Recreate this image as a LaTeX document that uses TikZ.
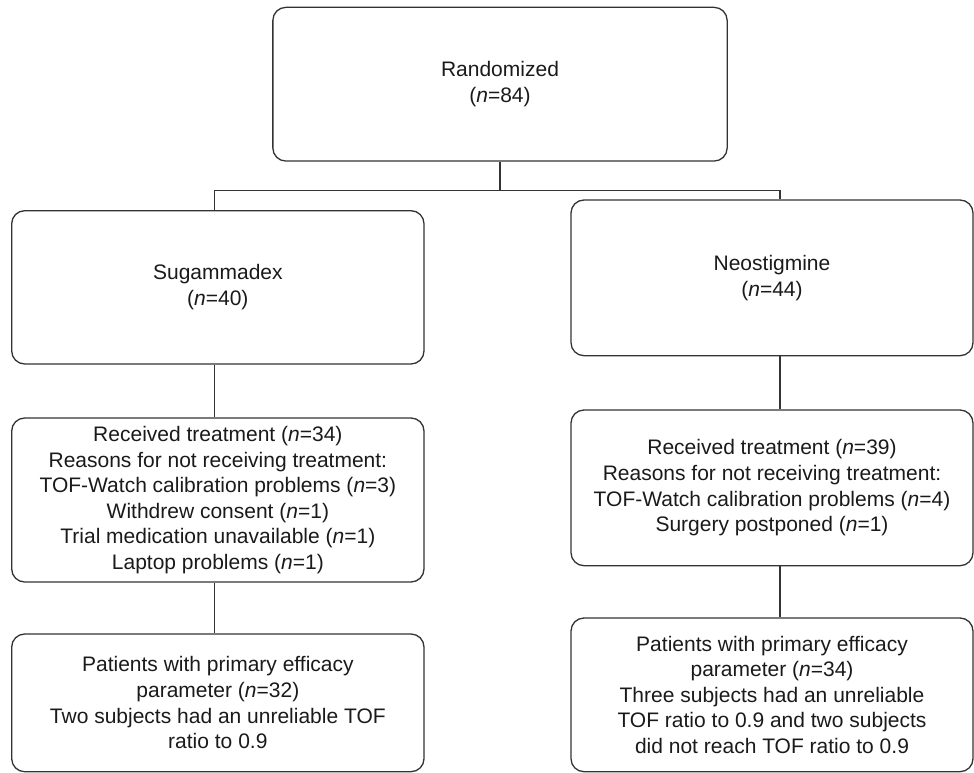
\documentclass[tikz,border=0pt]{standalone}
\usepackage{fontspec}
\setmainfont{Liberation Sans}
\definecolor{linec}{HTML}{333333}
\definecolor{textc}{HTML}{1A1A1A}
\begin{document}
\begin{tikzpicture}[x=1pt,y=-1pt,
  box/.style={draw=linec, line width=1.3pt, rounded corners=13pt, inner sep=0pt,
    align=center, text=textc, font=\fontsize{21}{25.6}\selectfont},
  conn/.style={draw=linec, line width=1.3pt}]
\useasboundingbox (0,0) rectangle (974,773);
\node[box, minimum width=454.3pt, minimum height=153.7pt] (top) at (500,84.2)
  {Randomized\\(\textit{n}=84)};
\node[box, minimum width=412.3pt, minimum height=153.3pt] (sug) at (217.85,287.35)
  {Sugammadex\\(\textit{n}=40)};
\node[box, minimum width=402pt, minimum height=155.7pt] (neo) at (772,277.85)
  {Neostigmine\\(\textit{n}=44)};
\node[box, minimum width=412.3pt, minimum height=164pt] (recL) at (217.85,500)
  {Received treatment (\textit{n}=34)\\Reasons for not receiving treatment:\\TOF-Watch calibration problems (\textit{n}=3)\\Withdrew consent (\textit{n}=1)\\Trial medication unavailable (\textit{n}=1)\\Laptop problems (\textit{n}=1)};
\node[box, minimum width=402pt, minimum height=155.7pt] (recR) at (772,487.85)
  {Received treatment (\textit{n}=39)\\Reasons for not receiving treatment:\\TOF-Watch calibration problems (\textit{n}=4)\\Surgery postponed (\textit{n}=1)};
\node[box, minimum width=412.3pt, minimum height=137.7pt] (patL) at (217.85,702.85)
  {Patients with primary efficacy\\parameter (\textit{n}=32)\\Two subjects had an unreliable TOF\\ratio to 0.9};
\node[box, minimum width=402pt, minimum height=153.7pt] (patR) at (772,694.85)
  {Patients with primary efficacy\\parameter (\textit{n}=34)\\Three subjects had an unreliable\\TOF ratio to 0.9 and two subjects\\did not reach TOF ratio to 0.9};
\coordinate (jm) at (500,190.7);
\coordinate (jl) at (214.5,190.7);
\coordinate (jr) at (780,190.7);
\draw[conn] (top.south) -- (jm);
\draw[conn] (sug.north -| jl) -- (jl) -- (jr) -- (neo.north -| jr);
\draw[conn] (sug.south -| jl) -- (recL.north -| jl);
\draw[conn] (recL.south -| jl) -- (patL.north -| jl);
\draw[conn] (neo.south -| jr) -- (recR.north -| jr);
\draw[conn] (recR.south -| jr) -- (patR.north -| jr);
\end{tikzpicture}
\end{document}
